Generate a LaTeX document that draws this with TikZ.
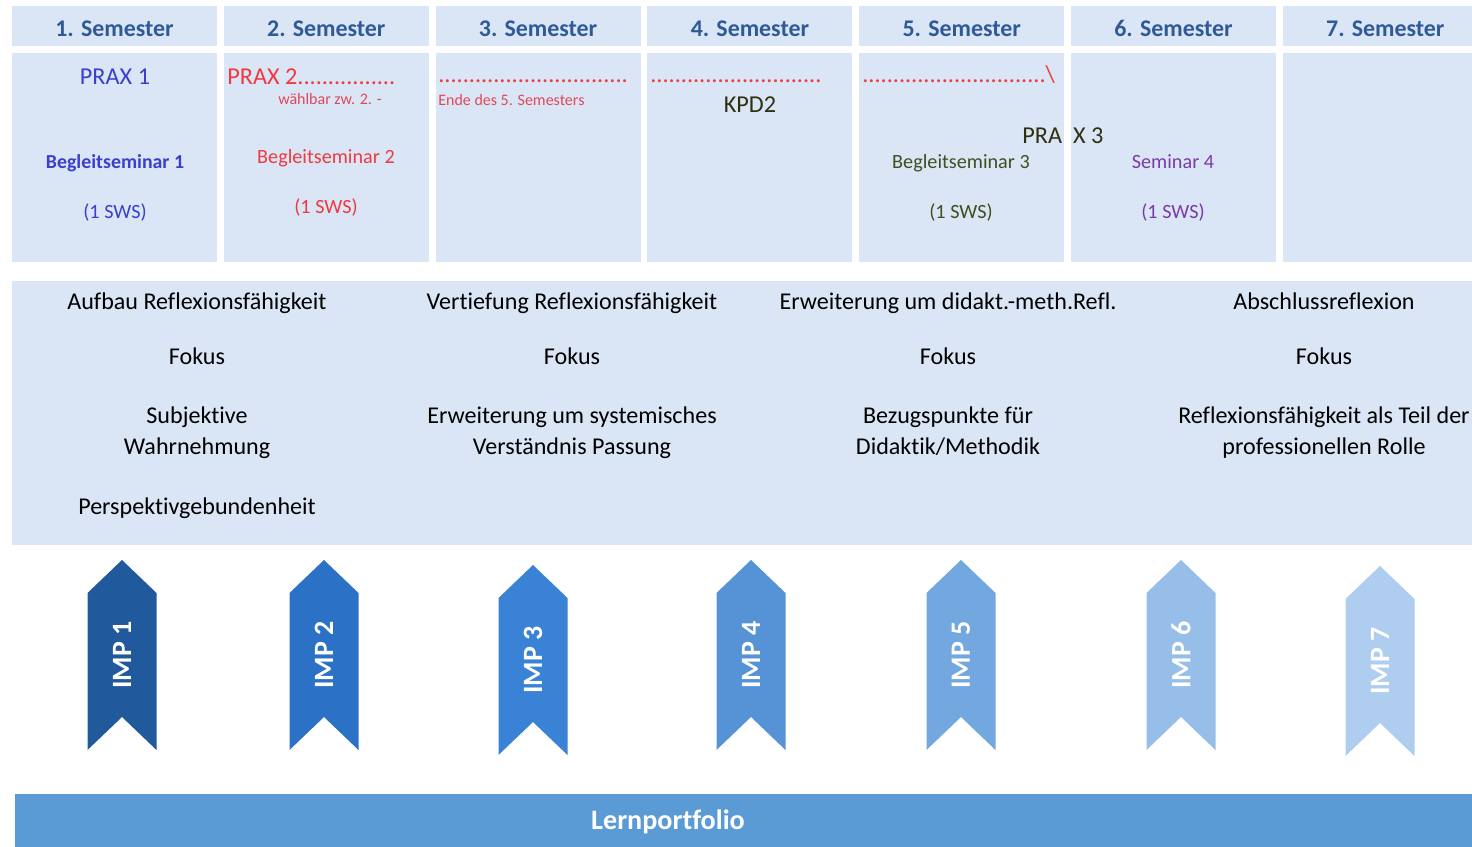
\documentclass[tikz,border=0pt]{standalone}
\usepackage{fontspec}
\setmainfont{Carlito}[Ligatures={NoCommon}]
\usetikzlibrary{positioning}
\definecolor{cellblue}{HTML}{DAE6F5}
\definecolor{headblue}{HTML}{2F5A97}
\definecolor{portblue}{HTML}{5B9BD5}
\definecolor{praxblue}{HTML}{3A3FCC}
\definecolor{praxred}{HTML}{EE3A40}
\definecolor{softred}{HTML}{E0485A}
\definecolor{olive}{HTML}{2F3010}
\definecolor{darkgreen}{HTML}{3F4F1F}
\definecolor{violet}{HTML}{7A3BA8}
\definecolor{imp1}{HTML}{215A9C}
\definecolor{imp2}{HTML}{2B72C6}
\definecolor{imp3}{HTML}{3A82D6}
\definecolor{imp4}{HTML}{5593D6}
\definecolor{imp5}{HTML}{72A7DF}
\definecolor{imp6}{HTML}{97BEE8}
\definecolor{imp7}{HTML}{AFCDEE}
\tikzset{head/.style={
            fill=cellblue,
            inner sep=0pt,
            minimum width=4.1cm,
            minimum height=0.8cm
        },
        headtext/.style={
            text=headblue,
            font=\fontsize{13.6}{16}\selectfont\bfseries,
            inner sep=0pt,
            anchor=base
        },
        cell/.style={
            fill=cellblue,
            inner sep=0pt,
            minimum width=4.1cm,
            minimum height=4.18cm
        },
        big/.style={
            font=\fontsize{13.8}{16}\selectfont,
            inner sep=0pt,
            anchor=base
        },
        norm/.style={
            font=\fontsize{11.5}{14}\selectfont,
            inner sep=0pt,
            anchor=base
        },
        tiny/.style={
            font=\fontsize{9.1}{11}\selectfont,
            inner sep=0pt,
            anchor=base
        },
        focus/.style={
            font=\fontsize{13.7}{16}\selectfont,
            inner sep=0pt,
            anchor=base
        },
        imp/.style={
            text=white,
            font=\fontsize{15.9}{18}\selectfont\bfseries,
            inner sep=0pt,
            rotate=90
        },
        lern/.style={
            text=white,
            font=\fontsize{16}{19}\selectfont\bfseries,
            inner sep=0pt,
            anchor=base
        }
    }
\begin{document}
\begin{tikzpicture}[x=0.02cm,y=-0.02cm]
        \useasboundingbox (0,0) rectangle (1472,847);
        \clip (0,0) rectangle (1472,847);
        % semester columns
        \foreach \i in {1,...,7} {
            \node[head] (h\i) at ({114.5+211.8*(\i-1)},26) {};
            \node[headtext] (t\i) at ({114.5+211.8*(\i-1)},36.5) {\i. Semester};
            \node[cell] (c\i) at ({114.5+211.8*(\i-1)},157.5) {};
        }
        \node[big,text=praxblue] (prax1) at (115,84.5) {PRAX 1};
        \node[norm,text=praxblue,font=\fontsize{11.3}{14}\selectfont\bfseries] (sem1) at (115,169) {Begleitseminar 1};
        \node[norm,text=praxblue] (sws1) at (115,219) {(1 SWS)};
        \node[big,text=praxred,anchor=base west] (prax2) at (227,84.5) {PRAX 2................};
        \node[tiny,text=softred] (wahl) at (330,104.5) {wählbar zw. 2. -};
        \node[norm,text=praxred] (sem2) at (326,164) {Begleitseminar 2};
        \node[norm,text=praxred] (sws2) at (326,214) {(1 SWS)};
        \node[big,text=praxred,anchor=base west] (dots3) at (438,82.5) {...............................};
        \node[tiny,text=softred,anchor=base west] (ende) at (438,105.5) {Ende des 5. Semesters};
        \node[big,text=praxred,anchor=base west] (dots4) at (650,82.5) {............................};
        \node[big,text=olive] (kpd) at (750,112.5) {KPD2};
        \node[big,text=praxred,anchor=base west] (dots5) at (862,82.5) {..............................\textbackslash};
        \node[big,text=olive,anchor=base west] (prax3) at (1022,143.5) {PRA\hspace{6.3pt}X 3};
        \node[norm,text=darkgreen] (sem3) at (961,169) {Begleitseminar 3};
        \node[norm,text=darkgreen] (sws3) at (961,219) {(1 SWS)};
        \node[norm,text=violet] (sem4) at (1173,169) {Seminar 4};
        \node[norm,text=violet] (sws4) at (1173,219) {(1 SWS)};
        % reflection band
        \fill[cellblue] (12,281) rectangle (1480,545);
        \node[focus] (aufbau) at (197,310) {Aufbau Reflexionsfähigkeit};
        \node[focus] (fokus1) at (197,365) {Fokus};
        \node[focus] (subj) at (197,424) {Subjektive};
        \node[focus] (wahr) at (197,455) {Wahrnehmung};
        \node[focus] (persp) at (197,515) {Perspektivgebundenheit};
        \node[focus] (vertief) at (572,310) {Vertiefung Reflexionsfähigkeit};
        \node[focus] (fokus2) at (572,365) {Fokus};
        \node[focus] (system) at (572,424) {Erweiterung um systemisches};
        \node[focus] (passung) at (572,455) {Verständnis Passung};
        \node[focus] (erweit) at (948,310) {Erweiterung um didakt.-meth.Refl.};
        \node[focus] (fokus3) at (948,365) {Fokus};
        \node[focus] (bezug) at (948,424) {Bezugspunkte für};
        \node[focus] (didakt) at (948,455) {Didaktik/Methodik};
        \node[focus] (abschl) at (1324,310) {Abschlussreflexion};
        \node[focus] (fokus4) at (1324,365) {Fokus};
        \node[focus] (teil) at (1324,424) {Reflexionsfähigkeit als Teil der};
        \node[focus] (rolle) at (1324,455) {professionellen Rolle};
        % IMP chevrons
        \foreach \n/\x/\y in {1/122/560,2/324/560,3/533/565,4/751/560,5/961/560,6/1181/560,7/1380/566} {
            \fill[imp\n] (\x-34.5,\y+33) -- (\x,\y) -- (\x+34.5,\y+33) -- (\x+34.5,\y+190)
                -- (\x,\y+157) -- (\x-34.5,\y+190) -- cycle;
            \node[imp] (imp\n) at (\x,\y+95) {IMP \n};
        }
        % portfolio bar
        \fill[portblue] (15,794) rectangle (1480,850);
        \node[lern] (portfolio) at (668,830) {Lernportfolio};
    \end{tikzpicture}
\end{document}
